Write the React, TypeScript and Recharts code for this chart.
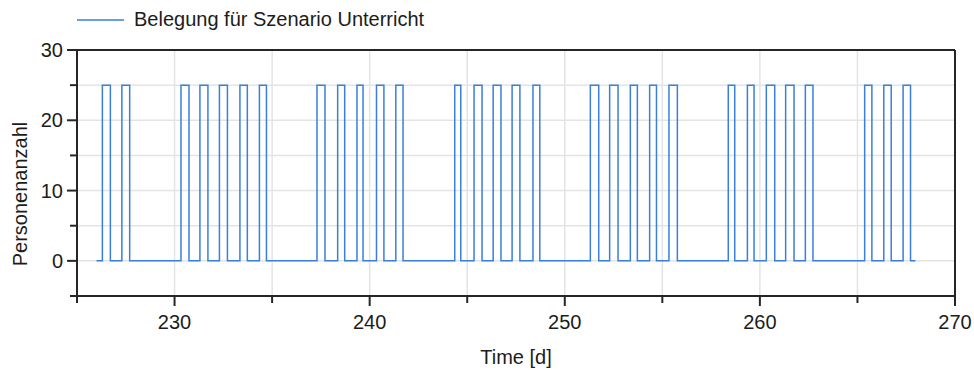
import { LineChart, Line, XAxis, YAxis, CartesianGrid, ReferenceLine, Legend } from "recharts";

const seriesName = "Belegung für Szenario Unterricht";
const xTitle = "Time [d]";
const yTitle = "Personenanzahl";

const xTicks = [225, 230, 235, 240, 245, 250, 255, 260, 265, 270];
const yTicks = [-5, 0, 5, 10, 15, 20, 25, 30];

// occupancy switches between 0 and this level
const startTime = 226;
const endTime = 267.97;
const occupied = 25;

const pulseOn = [
  226.3, 227.3,
  230.33, 231.3, 232.3, 233.35, 234.35,
  237.3, 238.36, 239.35, 240.35, 241.34,
  244.36, 245.35, 246.33, 247.3, 248.37,
  251.31, 252.3, 253.36, 254.35, 255.34,
  258.38, 259.36, 260.33, 261.32, 262.33,
  265.37, 266.35, 267.34,
];
const pulseOff = [
  226.71, 227.7,
  230.74, 231.71, 232.71, 233.73, 234.71,
  237.71, 238.72, 239.66, 240.73, 241.71,
  244.67, 245.76, 246.73, 247.7, 248.72,
  251.74, 252.73, 253.72, 254.7, 255.77,
  258.71, 259.7, 260.76, 261.75, 262.72,
  265.74, 266.73, 267.72,
];

const data: { t: number; v: number }[] = [{ t: startTime, v: 0 }];
pulseOn.forEach((on, i) => {
  data.push({ t: on, v: occupied });
  data.push({ t: pulseOff[i], v: 0 });
});
data.push({ t: endTime, v: 0 });

const lineColor = "#3a7fdc";
const axisColor = "#262626";
const textColor = "#1c1c1c";
const font = "'Liberation Sans', Arial, sans-serif";

function XTick({ x, y, payload }: any) {
  const major = payload.value % 10 === 0;
  return (
    <g>
      <line x1={x} x2={x} y1={y} y2={y + (major ? 10 : 7)} stroke={axisColor} strokeWidth={2} />
      {major && (
        <text x={x} y={y + 33} textAnchor="middle" fontSize={20} fontFamily={font} fill={textColor}>
          {payload.value}
        </text>
      )}
    </g>
  );
}

function YTick({ x, y, payload }: any) {
  const major = payload.value % 10 === 0;
  return (
    <g>
      <line x1={x - (major ? 10 : 7)} x2={x} y1={y} y2={y} stroke={axisColor} strokeWidth={2} />
      {major && (
        <text x={x - 14} y={y + 7} textAnchor="end" fontSize={20} fontFamily={font} fill={textColor}>
          {payload.value}
        </text>
      )}
    </g>
  );
}

function LegendContent() {
  return (
    <div style={{ display: "flex", alignItems: "center", fontFamily: font, fontSize: 20, color: textColor, whiteSpace: "nowrap" }}>
      <svg width={47} height={4} style={{ marginRight: 10 }}>
        <line x1={0} x2={47} y1={2} y2={2} stroke={lineColor} strokeWidth={1.5} />
      </svg>
      <span>{seriesName}</span>
    </div>
  );
}

export default function App() {
  return (
    <div style={{ position: "absolute", left: 0, top: 0, width: 974, height: 370, background: "#fff" }}>
      <LineChart width={974} height={370} data={data} margin={{ top: 50, right: 19, bottom: 0, left: 0 }}>
        <CartesianGrid stroke="#e4e4e4" strokeWidth={1.5} />
        <XAxis
          type="number"
          dataKey="t"
          domain={[225, 270]}
          ticks={xTicks}
          interval={0}
          height={74}
          tickSize={0}
          tickMargin={0}
          tickLine={false}
          axisLine={{ stroke: axisColor, strokeWidth: 2 }}
          tick={<XTick />}
        />
        <YAxis
          type="number"
          domain={[-5, 30]}
          ticks={yTicks}
          interval={0}
          width={77}
          tickSize={0}
          tickMargin={0}
          tickLine={false}
          axisLine={{ stroke: axisColor, strokeWidth: 2 }}
          tick={<YTick />}
        />
        <ReferenceLine y={30} stroke={axisColor} strokeWidth={2} />
        <ReferenceLine x={270} stroke={axisColor} strokeWidth={2} />
        <Legend
          layout="horizontal"
          verticalAlign="middle"
          align="center"
          wrapperStyle={{ top: 8, left: 77, width: "auto" }}
          content={<LegendContent />}
        />
        <Line
          type="stepAfter"
          dataKey="v"
          name={seriesName}
          stroke={lineColor}
          strokeWidth={1.5}
          dot={false}
          isAnimationActive={false}
        />
      </LineChart>
      <svg width={974} height={370} style={{ position: "absolute", left: 0, top: 0, pointerEvents: "none" }}>
        <text x={516} y={364} textAnchor="middle" fontSize={20} fontFamily={font} fill={textColor}>
          {xTitle}
        </text>
        <text
          x={27}
          y={194}
          textAnchor="middle"
          fontSize={20}
          fontFamily={font}
          fill={textColor}
          transform="rotate(-90 27 194)"
        >
          {yTitle}
        </text>
      </svg>
    </div>
  );
}
